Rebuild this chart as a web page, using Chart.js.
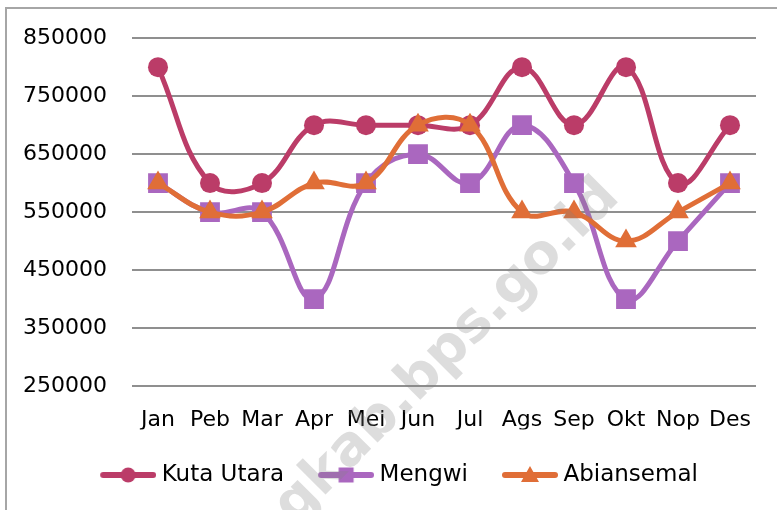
<!DOCTYPE html>
<html>
<head>
<meta charset="utf-8">
<script src="https://cdn.jsdelivr.net/npm/chart.js@4.4.1/dist/chart.umd.min.js"></script>
<style>
  html, body { margin: 0; padding: 0; background: #fff; overflow: hidden; }
  #wrap { position: relative; width: 777px; height: 510px; }
  #frame { position: absolute; left: 5px; top: 7px; width: 800px; height: 600px; border: 2px solid #a6a6a6; }
  #chart { position: absolute; left: 0; top: 0; }
</style>
</head>
<body>
<div id="wrap">
  <div id="frame"></div>
  <canvas id="chart" width="777" height="510"></canvas>
</div>
<script>
// data
const months = ['Jan', 'Peb', 'Mar', 'Apr', 'Mei', 'Jun', 'Jul', 'Ags', 'Sep', 'Okt', 'Nop', 'Des'];
const kutaUtara = [800000, 600000, 600000, 700000, 700000, 700000, 700000, 800000, 700000, 800000, 600000, 700000];
const mengwi = [600000, 550000, 550000, 400000, 600000, 650000, 600000, 700000, 600000, 400000, 500000, 600000];
const abiansemal = [600000, 550000, 550000, 600000, 600000, 700000, 700000, 550000, 550000, 500000, 550000, 600000];
const yMin = 250000;
const yMax = 850000;
const yStep = 100000;

const FONT = '"DejaVu Sans", Verdana, sans-serif';
const colors = { kuta: '#bb3c68', mengwi: '#aa67bf', abian: '#e06e37' };

// legend sample: line with marker in the middle
function legendSample(color, style) {
    const c = document.createElement('canvas');
    c.width = 62;
    c.height = 24;
    const g = c.getContext('2d');
    g.strokeStyle = color;
    g.fillStyle = color;
    g.lineWidth = 6;
    g.lineCap = 'round';
    g.beginPath();
    g.moveTo(9, 12);
    g.lineTo(59, 12);
    g.stroke();
    const cx = 34, cy = 12;
    g.beginPath();
    if (style === 'circle') {
        g.arc(cx, cy, 7.5, 0, Math.PI * 2);
    } else if (style === 'rect') {
        g.rect(cx - 7.5, cy - 7.5, 15, 15);
    } else {
        g.moveTo(cx, cy - 9);
        g.lineTo(cx + 9, cy + 7);
        g.lineTo(cx - 9, cy + 7);
        g.closePath();
    }
    g.fill();
    return c;
}

// watermark on top of the plot
const watermark = {
    id: 'watermark',
    afterDraw(chart) {
        const ctx = chart.ctx;
        ctx.save();
        ctx.translate(621, 199);
        ctx.rotate(-45 * Math.PI / 180);
        ctx.font = 'bold 55px ' + FONT;
        ctx.textAlign = 'right';
        ctx.textBaseline = 'alphabetic';
        ctx.fillStyle = 'rgba(128,128,128,0.27)';
        ctx.fillText('badungkab.bps.go.id', 0, 0);
        ctx.restore();
    }
};

// legend sits a little right of the canvas centre
const legendShift = {
    id: 'legendShift',
    afterLayout(chart) {
        chart.legend.left += 11;
        chart.legend.right += 11;
    }
};

function makeSet(label, data, color, style, radius, order) {
    return {
        label: label,
        data: data,
        borderColor: color,
        backgroundColor: color,
        borderWidth: 5,
        tension: 0.4,
        pointStyle: style,
        pointRadius: radius,
        pointHoverRadius: radius,
        pointBorderWidth: 0,
        pointBackgroundColor: color,
        order: order,
        legendImg: legendSample(color, style)
    };
}

const ctx = document.getElementById('chart').getContext('2d');
new Chart(ctx, {
    type: 'line',
    data: {
        labels: months,
        datasets: [
            makeSet('Kuta Utara', kutaUtara, colors.kuta, 'circle', 10, 3),
            makeSet('Mengwi', mengwi, colors.mengwi, 'rect', 14, 2),
            makeSet('Abiansemal', abiansemal, colors.abian, 'triangle', 12.5, 1)
        ]
    },
    options: {
        responsive: false,
        animation: false,
        layout: {
            padding: { left: 20, right: 21, top: 24, bottom: 13.5 }
        },
        plugins: {
            tooltip: { enabled: false },
            legend: {
                position: 'bottom',
                labels: {
                    usePointStyle: true,
                    pointStyleWidth: 50,
                    boxHeight: 22,
                    padding: 34,
                    color: '#000',
                    font: { family: FONT, size: 23 },
                    generateLabels(chart) {
                        return chart.data.datasets.map((ds, i) => ({
                            text: ds.label,
                            pointStyle: ds.legendImg,
                            fillStyle: ds.borderColor,
                            strokeStyle: ds.borderColor,
                            lineWidth: 0,
                            hidden: false,
                            datasetIndex: i
                        }));
                    }
                }
            }
        },
        scales: {
            x: {
                offset: true,
                grid: { display: false, drawTicks: false },
                border: { display: false },
                afterFit(scale) { scale.height = 43.5; },
                ticks: {
                    color: '#000',
                    padding: 21,
                    maxRotation: 0,
                    autoSkip: false,
                    font: { family: FONT, size: 22 }
                }
            },
            y: {
                min: yMin,
                max: yMax,
                afterFit(scale) { scale.width = 112; },
                grid: { color: '#8f8f8f', lineWidth: 2, drawTicks: false },
                border: { display: false },
                ticks: {
                    stepSize: yStep,
                    padding: 25,
                    color: '#000',
                    font: { family: FONT, size: 22 },
                    callback: v => String(v)
                }
            }
        }
    },
    plugins: [watermark, legendShift]
});
</script>
</body>
</html>
